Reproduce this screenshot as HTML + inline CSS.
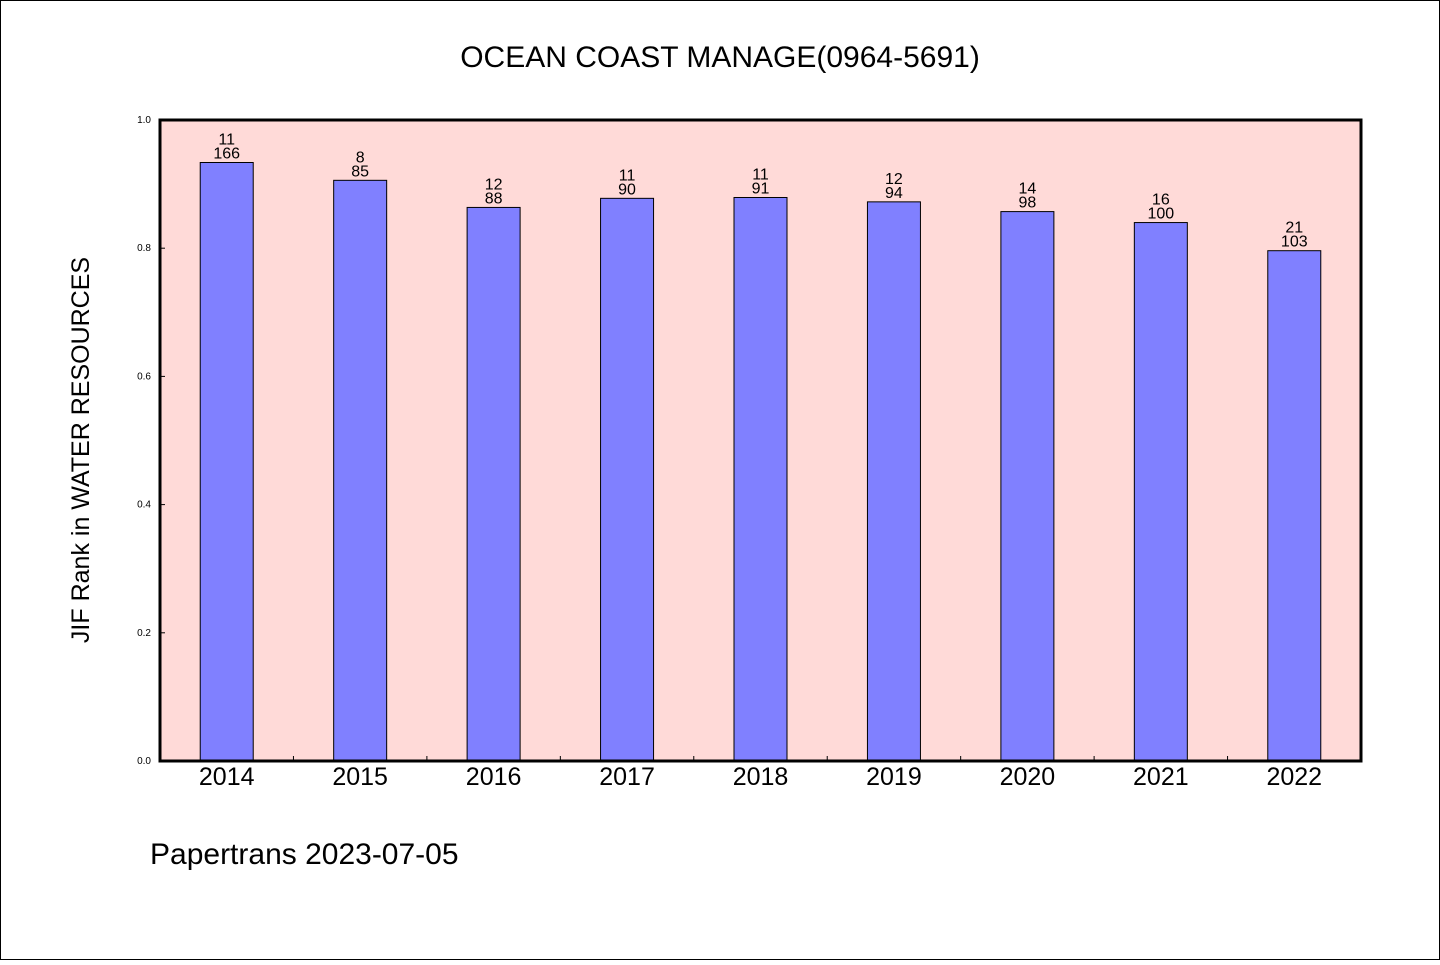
<!DOCTYPE html>
<html><head><meta charset="utf-8"><style>
body{margin:0;background:#fff}
svg text{font-family:"WenQuanYi Zen Hei","Liberation Sans",sans-serif;fill:#000}
</style></head><body>
<svg id="c" width="1440" height="960" viewBox="0 0 1440 960">
<rect x="0.5" y="0.5" width="1439" height="959" fill="#fff" stroke="#000"/>
<text x="720" y="67" text-anchor="middle" font-size="30">OCEAN COAST MANAGE(0964-5691)</text>
<rect x="160" y="120" width="1201" height="641" fill="#ffdad8"/>
<g id="bars"></g>
<rect x="160" y="120" width="1201" height="641" fill="none" stroke="#000" stroke-width="3"/>
<text transform="translate(89,450) rotate(-90)" text-anchor="middle" font-size="25">JIF Rank in WATER RESOURCES</text>
<text x="150" y="864" font-size="30">Papertrans 2023-07-05</text>
</svg>
<script>
const years=["2014","2015","2016","2017","2018","2019","2020","2021","2022"];
const ranks=[11,8,12,11,11,12,14,16,21];
const totals=[166,85,88,90,91,94,98,100,103];
const values=[0.9337,0.9059,0.8636,0.8778,0.8791,0.8723,0.8571,0.84,0.7961];
const yTicks=["0.0","0.2","0.4","0.6","0.8","1.0"];
const NS="http://www.w3.org/2000/svg";
const X0=160,W=1201,Y0=761,H=641;
const step=W/years.length;
const xc=i=>X0+step*(i+0.5);
const ys=v=>Y0-v*H;
const g=document.getElementById('bars');
function mk(t,a){const e=document.createElementNS(NS,t);for(const k in a)e.setAttribute(k,a[k]);return e;}
years.forEach((y,i)=>{
  const r=mk('rect',{x:xc(i)-26.5,y:ys(values[i]),width:53,height:Y0-ys(values[i]),fill:'#8080ff',stroke:'#000','stroke-width':1});
  
  
  g.appendChild(r);
  const t1=mk('text',{x:xc(i),y:ys(values[i])-18,'text-anchor':'middle','font-size':16});
  t1.textContent=ranks[i];
  
  
  g.appendChild(t1);
  const t2=mk('text',{x:xc(i),y:ys(values[i])-4,'text-anchor':'middle','font-size':16});
  t2.textContent=totals[i];
  
  
  g.appendChild(t2);
  const xl=mk('text',{x:xc(i),y:785,'text-anchor':'middle','font-size':25});
  xl.textContent=y;
  
  
  g.appendChild(xl);
  if(i>0){
    const tk=mk('line',{x1:X0+step*i,x2:X0+step*i,y1:Y0,y2:Y0-5,stroke:'#000','stroke-width':1});
    
    
    g.appendChild(tk);
  }
});
yTicks.forEach((s,i)=>{
  const v=parseFloat(s);
  const t=mk('text',{x:151,y:ys(v)+3,'text-anchor':'end','font-size':10});
  t.textContent=s;
  
  
  g.appendChild(t);
  const tk=mk('line',{x1:X0,x2:X0+5,y1:ys(v),y2:ys(v),stroke:'#000','stroke-width':1});
  
  
  g.appendChild(tk);
});
</script>
</body></html>
